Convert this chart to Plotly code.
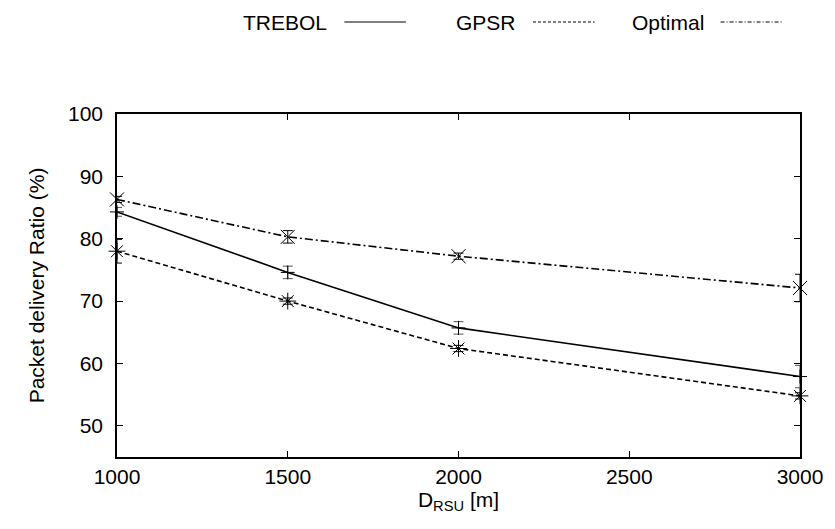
import plotly.graph_objects as go

x_vals = [1000, 1500, 2000, 3000]
trebol = [84.3, 74.6, 65.7, 57.9]
gpsr = [78.0, 70.0, 62.4, 54.8]
optimal = [86.3, 80.3, 77.2, 72.1]
trebol_err = [0.7, 1.0, 1.0, 1.8]
gpsr_err = [1.9, 0.5, 0.5, 0.5]
optimal_err = [0.5, 1.0, 0.5, 2.2]
y_ticks = [50, 60, 70, 80, 90, 100]
x_ticks = [1000, 1500, 2000, 2500, 3000]

FONT = "Liberation Sans, Arial, sans-serif"
FS = 21
fig = go.Figure()

def add(name, y, err, dash, symbol, msize, ecolor):
    fig.add_trace(go.Scatter(
        x=x_vals, y=y, name=name, mode="lines+markers",
        line=dict(color="black", width=1.6, dash=dash),
        marker=dict(symbol=symbol, size=msize, color="black",
                    line=dict(color="black", width=1)),
        error_y=dict(type="data", array=err, visible=True, color=ecolor,
                     thickness=1, width=5),
        showlegend=False, cliponaxis=False))

add("TREBOL", trebol, trebol_err, "solid", "cross-thin-open", 10, "#555")
add("GPSR", gpsr, gpsr_err, "5px,3px", "asterisk-open", 14, "black")
add("Optimal", optimal, optimal_err, "8px,3px,2px,3px", "x-thin-open", 14, "black")

# manual gnuplot-style key (text left of line sample)
W, H = 835, 529
ml, mr, mt, mb = 117, 30, 114, 72
pw, ph = W - ml - mr, H - mt - mb
def px(xp):
    return (xp - ml) / pw
def py(yp):
    return (H - mb - yp) / ph

key = [("TREBOL", 331, 346, 408, "solid"),
       ("GPSR", 521, 536, 598, "3px,2px"),
       ("Optimal", 710, 725, 787, "4px,2px,1px,2px")]
shapes = []
annotations = []
ky = 22
for name, tx, x0, x1, dash in key:
    annotations.append(dict(x=px(tx), y=py(ky), xref="paper", yref="paper",
                            text=name, showarrow=False, xanchor="right",
                            yanchor="middle",
                            font=dict(family=FONT, size=FS, color="black")))
    shapes.append(dict(type="line", xref="paper", yref="paper",
                       x0=px(x0), x1=px(x1), y0=py(ky), y1=py(ky),
                       line=dict(color="black", width=1.2, dash=dash)))

fig.update_layout(
    width=W, height=H,
    margin=dict(l=ml, r=mr, t=mt, b=mb),
    paper_bgcolor="white", plot_bgcolor="white",
    font=dict(family=FONT, size=FS, color="black"),
    shapes=shapes, annotations=annotations,
    xaxis=dict(range=[1000, 3000], tickvals=x_ticks,
               ticks="inside", ticklen=6, tickwidth=1, tickcolor="black",
               showline=True, linecolor="black", linewidth=1.5,
               mirror="ticks", showgrid=False, zeroline=False,
               title=dict(text="D<sub>RSU</sub> [m]", standoff=4,
                          font=dict(size=FS)),
               tickfont=dict(size=FS)),
    yaxis=dict(range=[45, 100], tickvals=y_ticks,
               ticks="inside", ticklen=6, tickwidth=1, tickcolor="black",
               showline=True, linecolor="black", linewidth=1.5,
               mirror="ticks", showgrid=False, zeroline=False,
               ticklabelstandoff=8,
               title=dict(text="Packet delivery Ratio (%)", standoff=18,
                          font=dict(size=FS)),
               tickfont=dict(size=FS)),
)

fig.write_html("out.html")
